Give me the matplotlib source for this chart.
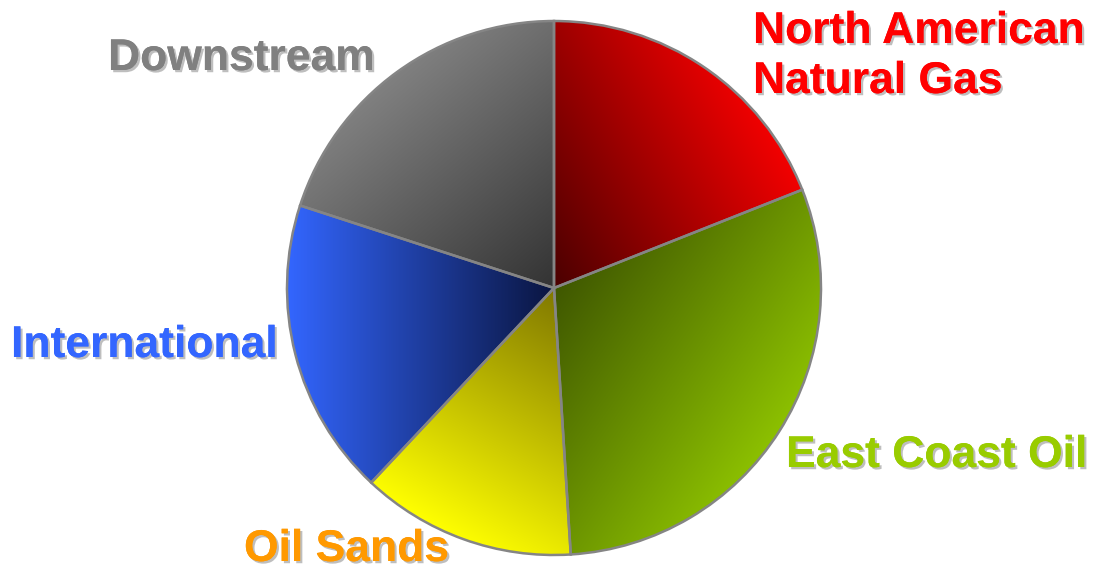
import numpy as np
import matplotlib
matplotlib.use('Agg')
import matplotlib.pyplot as plt
import matplotlib.patheffects as pe
from matplotlib.colors import to_rgb

# ── Data ─────────────────────────────────────────────────────────────
segments = ['North American\nNatural Gas', 'East Coast Oil', 'Oil Sands',
            'International', 'Downstream']
shares = [19, 30, 13, 18, 20]

# label colours + gradient (dark near centre -> bright at rim)
label_colors = ['#ff0000', '#99cc00', '#ff9900', '#3366ff', '#808080']
dark_colors = ['#4a0000', '#3f5700', '#807800', '#0a1540', '#333333']
bright_colors = ['#f20000', '#8cc000', '#ffff00', '#3366ff', '#808080']
grad_angles = [30, -35, -120, 180, 130]   # gradient direction, degrees

# label anchor: left edge, first baseline (pixel coords from top)
label_pos = [(753, 43), (786, 467), (244, 561), (11, 357), (108, 70)]

W, H = 1094, 569
cx, cy, R = 554, H - 288, 267

fig = plt.figure(figsize=(W / 100, H / 100), dpi=100)
ax = fig.add_axes([0, 0, 1, 1])

wedges, _ = ax.pie(shares, startangle=90, counterclock=False,
                   center=(cx, cy), radius=R,
                   wedgeprops=dict(facecolor='none', edgecolor='#858585',
                                   linewidth=1.8, zorder=3))

# gradient fills, clipped to each wedge
n = 700
xs = np.linspace(cx - R, cx + R, n)
ys = np.linspace(cy - R, cy + R, n)
X, Y = np.meshgrid(xs, ys)
for w, dcol, bcol, ang in zip(wedges, dark_colors, bright_colors, grad_angles):
    a = np.deg2rad(ang)
    t = ((X - cx) * np.cos(a) + (Y - cy) * np.sin(a)) / R
    t = np.clip(t, 0, 1)[..., None]
    d = np.array(to_rgb(dcol))
    b = np.array(to_rgb(bcol))
    img = d + (b - d) * t
    im = ax.imshow(img, extent=(cx - R, cx + R, cy - R, cy + R),
                   origin='lower', interpolation='bilinear', zorder=1)
    im.set_clip_path(w)

# labels with soft drop shadow
shadow = [pe.withSimplePatchShadow(offset=(1.6, -1.6), shadow_rgbFace='#8a8a8a',
                                   alpha=0.55), pe.Normal()]
for text, col, (lx, ly) in zip(segments, label_colors, label_pos):
    for k, line in enumerate(text.split('\n')):
        ax.text(lx, H - (ly + 50 * k), line, color=col, fontsize=32,
                fontweight='bold', family='Liberation Sans',
                ha='left', va='baseline', path_effects=shadow, zorder=5)

ax.set_xlim(0, W)
ax.set_ylim(0, H)
ax.set_aspect('equal')
ax.axis('off')

fig.savefig('out.png', dpi=100, facecolor='white')
